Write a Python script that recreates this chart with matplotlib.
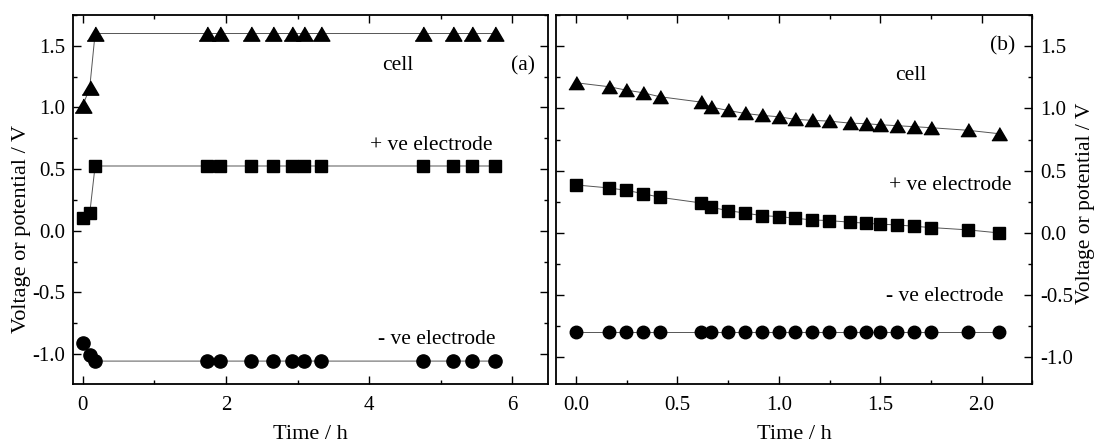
import matplotlib
matplotlib.use("Agg")
import matplotlib.pyplot as plt
from matplotlib.ticker import MultipleLocator, FormatStrFormatter

plt.rcParams["font.family"] = ["Liberation Serif", "DejaVu Serif"]
plt.rcParams["axes.unicode_minus"] = False

# ── Panel (a) data ────────────────────────────────────────────────────────────
time_a = [0.0, 0.10, 0.175, 1.73, 1.92, 2.35, 2.66, 2.92, 3.09, 3.33, 4.75, 5.17, 5.43, 5.75]
cell_a = [1.01, 1.16, 1.60, 1.60, 1.60, 1.60, 1.60, 1.60, 1.60, 1.60, 1.60, 1.60, 1.60, 1.60]
pos_a = [0.10, 0.14, 0.525, 0.525, 0.525, 0.525, 0.525, 0.525, 0.525, 0.525, 0.525, 0.525, 0.525, 0.525]
neg_a = [-0.915, -1.005, -1.058, -1.058, -1.058, -1.058, -1.058, -1.058, -1.058, -1.058,
         -1.058, -1.058, -1.058, -1.058]

# ── Panel (b) data ────────────────────────────────────────────────────────────
time_b = [0.0, 0.163, 0.247, 0.329, 0.413, 0.614, 0.665, 0.749, 0.831, 0.915, 0.999,
          1.081, 1.164, 1.247, 1.349, 1.431, 1.498, 1.584, 1.668, 1.750, 1.934, 2.084]
cell_b = [1.206, 1.174, 1.147, 1.126, 1.094, 1.051, 1.011, 0.984, 0.960, 0.944, 0.933,
          0.912, 0.904, 0.898, 0.882, 0.877, 0.869, 0.861, 0.853, 0.845, 0.824, 0.797]
pos_b = [0.385, 0.361, 0.342, 0.316, 0.286, 0.241, 0.206, 0.179, 0.160, 0.139, 0.131,
         0.118, 0.104, 0.099, 0.086, 0.078, 0.070, 0.064, 0.053, 0.043, 0.024, 0.0]
neg_b = [-0.80] * len(time_b)

LINE = "#555555"
TRI = [(-1, -0.8), (1, -0.8), (0, 0.9)]


def style_axes(ax, xmajor, xminor):
    ax.xaxis.set_major_locator(MultipleLocator(xmajor))
    ax.xaxis.set_minor_locator(MultipleLocator(xminor))
    ax.yaxis.set_major_locator(MultipleLocator(0.5))
    ax.yaxis.set_minor_locator(MultipleLocator(0.25))
    ax.yaxis.set_major_formatter(FormatStrFormatter("%.1f"))
    ax.tick_params(which="both", direction="in", top=True, right=True, labelsize=15, width=1.0)
    ax.tick_params(which="major", length=5.5)
    ax.tick_params(which="minor", length=3)
    ax.tick_params(axis="x", pad=9)
    ax.tick_params(axis="y", pad=5.5)
    for sp in ax.spines.values():
        sp.set_linewidth(1.3)


def draw(ax, t, cell, pos, neg, ms):
    ax.plot(t, cell, color=LINE, lw=0.7, marker=TRI, ms=ms[0], mfc="black", mec="black")
    ax.plot(t, pos, color=LINE, lw=0.7, marker="s", ms=ms[1], mfc="black", mec="black")
    ax.plot(t, neg, color=LINE, lw=0.7, marker="o", ms=ms[2], mfc="black", mec="black")


fig = plt.figure(figsize=(10.94, 4.46), dpi=100)
ax1 = fig.add_axes([0.0663, 0.1401, 0.4349, 0.8262])
ax2 = fig.add_axes([0.5080, 0.1401, 0.4356, 0.8262])

# ── (a) ───────────────────────────────────────────────────────────────────────
draw(ax1, time_a, cell_a, pos_a, neg_a, (12, 9, 9.5))
ax1.set_xlim(-0.14, 6.5)
ax1.set_ylim(-1.24, 1.75)
style_axes(ax1, 2, 1)
ax1.set_xlabel("Time / h", fontsize=16, labelpad=7)
ax1.set_ylabel("Voltage or potential / V", fontsize=16)
ax1.yaxis.set_label_coords(-0.088, 0.42)
ax1.text(4.40, 1.338, "cell", fontsize=15.5, ha="center", va="center")
ax1.text(6.14, 1.338, "(a)", fontsize=15.5, ha="center", va="center")
ax1.text(4.87, 0.689, "+ ve electrode", fontsize=15.5, ha="center", va="center")
ax1.text(4.94, -0.881, "- ve electrode", fontsize=15.5, ha="center", va="center")

# ── (b) ───────────────────────────────────────────────────────────────────────
draw(ax2, time_b, cell_b, pos_b, neg_b, (11, 8, 9))
ax2.set_xlim(-0.1, 2.25)
ax2.set_ylim(-1.21, 1.75)
style_axes(ax2, 0.5, 0.25)
ax2.tick_params(axis="y", labelleft=False, labelright=True)
ax2.xaxis.set_major_formatter(FormatStrFormatter("%.1f"))
ax2.set_xlabel("Time / h", fontsize=16, labelpad=7)
ax2.yaxis.set_label_position("right")
ax2.set_ylabel("Voltage or potential / V", fontsize=15.5)
ax2.yaxis.set_label_coords(1.092, 0.49)
ax2.text(2.105, 1.5, "(b)", fontsize=15.5, ha="center", va="center")
ax2.text(1.65, 1.268, "cell", fontsize=15.5, ha="center", va="center")
ax2.text(1.843, 0.384, "+ ve electrode", fontsize=15.5, ha="center", va="center")
ax2.text(1.82, -0.507, "- ve electrode", fontsize=15.5, ha="center", va="center")

fig.savefig("out.png", dpi=100)
